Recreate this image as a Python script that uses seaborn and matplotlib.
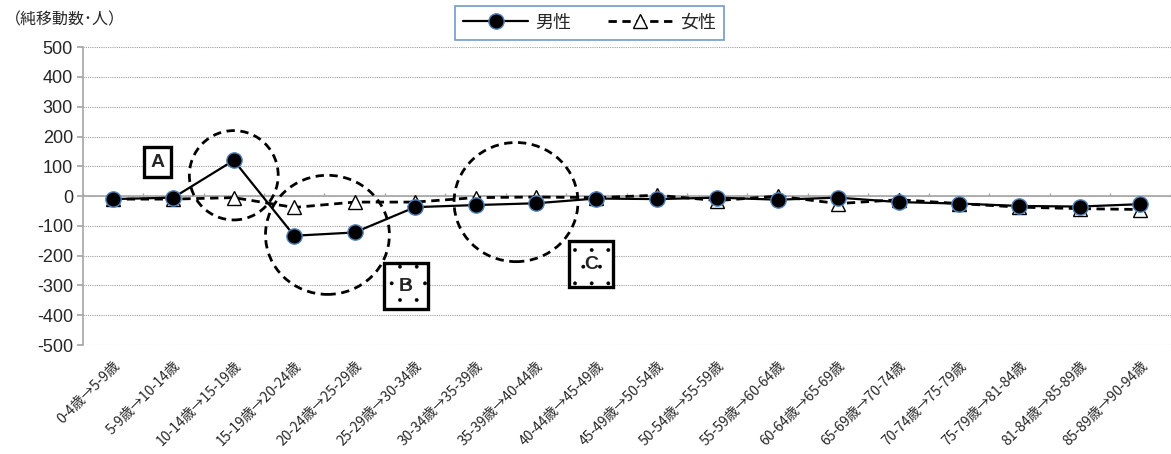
import numpy as np
import matplotlib
matplotlib.use('Agg')
import matplotlib.pyplot as plt
import seaborn as sns
from matplotlib.patches import Ellipse
from matplotlib.transforms import ScaledTranslation

# age transitions
categories = ['0-4歳→5-9歳', '5-9歳→10-14歳', '10-14歳→15-19歳', '15-19歳→20-24歳',
              '20-24歳→25-29歳', '25-29歳→30-34歳', '30-34歳→35-39歳', '35-39歳→40-44歳',
              '40-44歳→45-49歳', '45-49歳→50-54歳', '50-54歳→55-59歳', '55-59歳→60-64歳',
              '60-64歳→65-69歳', '65-69歳→70-74歳', '70-74歳→75-79歳', '75-79歳→81-84歳',
              '81-84歳→85-89歳', '85-89歳→90-94歳']
male = [-10, -5, 120, -133, -122, -37, -30, -24, -8, -10, -5, -12, -5, -20, -25, -33, -35, -27]
female = [-10, -10, -5, -38, -20, -20, -5, -3, -5, 3, -15, 0, -25, -12, -25, -37, -42, -45]
yticks = list(range(-500, 501, 100))

sns.set_theme(style='white')
plt.rcParams['font.family'] = ['Noto Sans CJK JP', 'DejaVu Sans']
plt.rcParams['axes.unicode_minus'] = False
plt.rcParams['hatch.linewidth'] = 0.3

fig = plt.figure(figsize=(11.71, 4.54), dpi=100)
ax = fig.add_axes([0.0706, 0.24, 0.929, 0.656])

x = np.arange(len(categories))

ax.set_ylim(-500, 500)
ax.set_xlim(-0.5, len(categories) - 0.5)
ax.set_yticks(yticks)
for t in yticks:
    ax.axhline(t, color='#a0a0a0', lw=0.8, ls=(0, (1, 1)), zorder=0)
ax.axhline(0, color='#a6a6a6', lw=1.2, zorder=1)
ax.vlines(np.arange(len(categories) + 1) - 0.5, 0, 12, color='#a6a6a6', lw=1, zorder=1)

sns.lineplot(x=x, y=male, ax=ax, color='black', lw=1.6, marker='o', markersize=11,
             markerfacecolor='black', markeredgecolor='#4f81bd', markeredgewidth=1,
             label='男性', zorder=4)
sns.lineplot(x=x, y=female, ax=ax, color='black', lw=2, linestyle=(0, (3, 2)), marker='^',
             markersize=10, markerfacecolor='white', markeredgecolor='black',
             markeredgewidth=1, label='女性', zorder=3)

# dashed highlight circles
for cx, cy, w, h in [(2, 70, 1.47, 300), (3.55, -130, 2.05, 400), (6.67, -20, 2.05, 400)]:
    ax.add_patch(Ellipse((cx, cy), w, h, fill=False, ec='black', lw=2,
                         ls=(0, (3, 2)), zorder=5))

# A / B / C labels
for lab, lx, ly, pad, hatch in [('A', 0.74, 114, 0.35, None),
                                ('B', 4.85, -302, 0.75, '.'),
                                ('C', 7.91, -228, 0.75, '.')]:
    t = ax.text(lx, ly, lab, ha='center', va='center', fontsize=14, fontweight='bold',
                family=['Liberation Sans'], zorder=6,
                bbox=dict(boxstyle=f'square,pad={pad}', fc='white', ec='black', lw=2.4))
    if hatch:
        t.get_bbox_patch().set_hatch(hatch)

ax.set_xticks(x)
ax.set_xticklabels(categories, rotation=45, ha='right', rotation_mode='anchor', fontsize=10)
off = ScaledTranslation(-0.08, 0, fig.dpi_scale_trans)
for lbl in ax.get_xticklabels():
    lbl.set_transform(lbl.get_transform() + off)
ax.tick_params(axis='x', length=0, pad=10)
ax.tick_params(axis='y', length=4, color='#a6a6a6', left=True, pad=3)
for lbl in ax.get_yticklabels():
    lbl.set_fontsize(13)
    lbl.set_family(['Liberation Sans'])

for side in ['top', 'right', 'bottom']:
    ax.spines[side].set_visible(False)
ax.spines['left'].set_color('#a6a6a6')
ax.spines['left'].set_linewidth(1.2)

fig.text(0.004, 0.957, '（純移動数･人）', fontsize=11.5, va='center', ha='left')

leg = ax.legend(loc='upper center', bbox_to_anchor=(0.466, 1.17), ncol=2, fontsize=13,
                frameon=True, fancybox=False, handlelength=3.6, columnspacing=2.0,
                borderpad=0.45, handletextpad=0.4)
leg.get_frame().set_edgecolor('#4f81bd')
leg.get_frame().set_linewidth(1.2)

fig.savefig('out.png', dpi=100)
